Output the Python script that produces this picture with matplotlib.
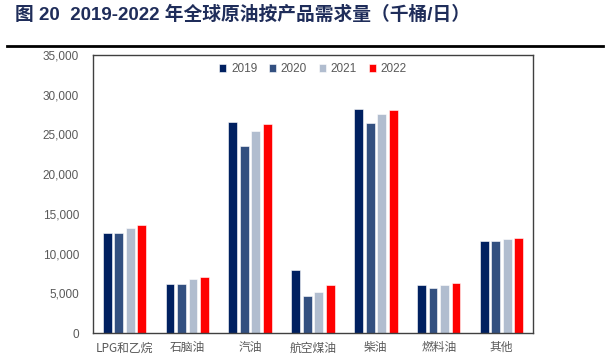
import numpy as np
import matplotlib.pyplot as plt

plt.rcParams['font.family'] = ['Liberation Sans', 'Noto Sans CJK SC', 'DejaVu Sans']

categories = ['LPG和乙烷', '石脑油', '汽油', '航空煤油', '柴油', '燃料油', '其他']
years = ['2019', '2020', '2021', '2022']
v2019 = [12650, 6220, 26550, 7900, 28190, 6090, 11640]
v2020 = [12650, 6220, 23490, 4620, 26390, 5630, 11640]
v2021 = [13280, 6850, 25460, 5130, 27520, 6010, 11850]
v2022 = [13570, 7020, 26300, 6090, 28110, 6260, 12020]
yticks = [0, 5000, 10000, 15000, 20000, 25000, 30000, 35000]

colors = ['#002060', '#335080', '#B1BDCF', '#FF0000']
series = [v2019, v2020, v2021, v2022]

fig = plt.figure(figsize=(6.08, 3.6), dpi=100)
ax = fig.add_axes([93/608, 1-333/360, 440/608, 278/360])

x = np.arange(len(categories))
step = 0.183
width = 0.14
for i, vals in enumerate(series):
    ax.bar(x + (i - 1.5)*step, vals, width, color=colors[i], label=years[i],
           edgecolor='white', linewidth=0.4)

ax.set_xlim(-0.5, len(categories) - 0.5)
ax.set_ylim(0, 35000)
ax.set_yticks(yticks)
ax.set_yticklabels(['{:,}'.format(t) for t in yticks])
ax.set_xticks(x)
ax.set_xticklabels(categories, family=['Noto Sans CJK SC', 'DejaVu Sans'], fontsize=9)
ax.tick_params(axis='both', length=0, labelsize=8.5, colors='#595959', pad=10)
ax.tick_params(axis='x', pad=6)
for s in ax.spines.values():
    s.set_color('#404040')
    s.set_linewidth(1.0)

leg = ax.legend(loc='upper center', bbox_to_anchor=(0.5, 1.0), ncol=4, frameon=False,
                fontsize=8.5, handlelength=0.6, handleheight=0.6, handletextpad=0.4,
                columnspacing=1.0, borderaxespad=0.3)
for t in leg.get_texts():
    t.set_color('#595959')

fig.text(15/608, 1-15/360, '图 20  2019-2022 年全球原油按产品需求量（千桶/日）',
         family=['Liberation Sans', 'Noto Sans CJK SC'], fontsize=13.5, fontweight='bold',
         color='#1F2D5A', va='center', ha='left')
fig.add_artist(plt.Line2D([7/608, 603/608], [1-46/360, 1-46/360], color='black', linewidth=2))

plt.savefig('out.png', dpi=100)
